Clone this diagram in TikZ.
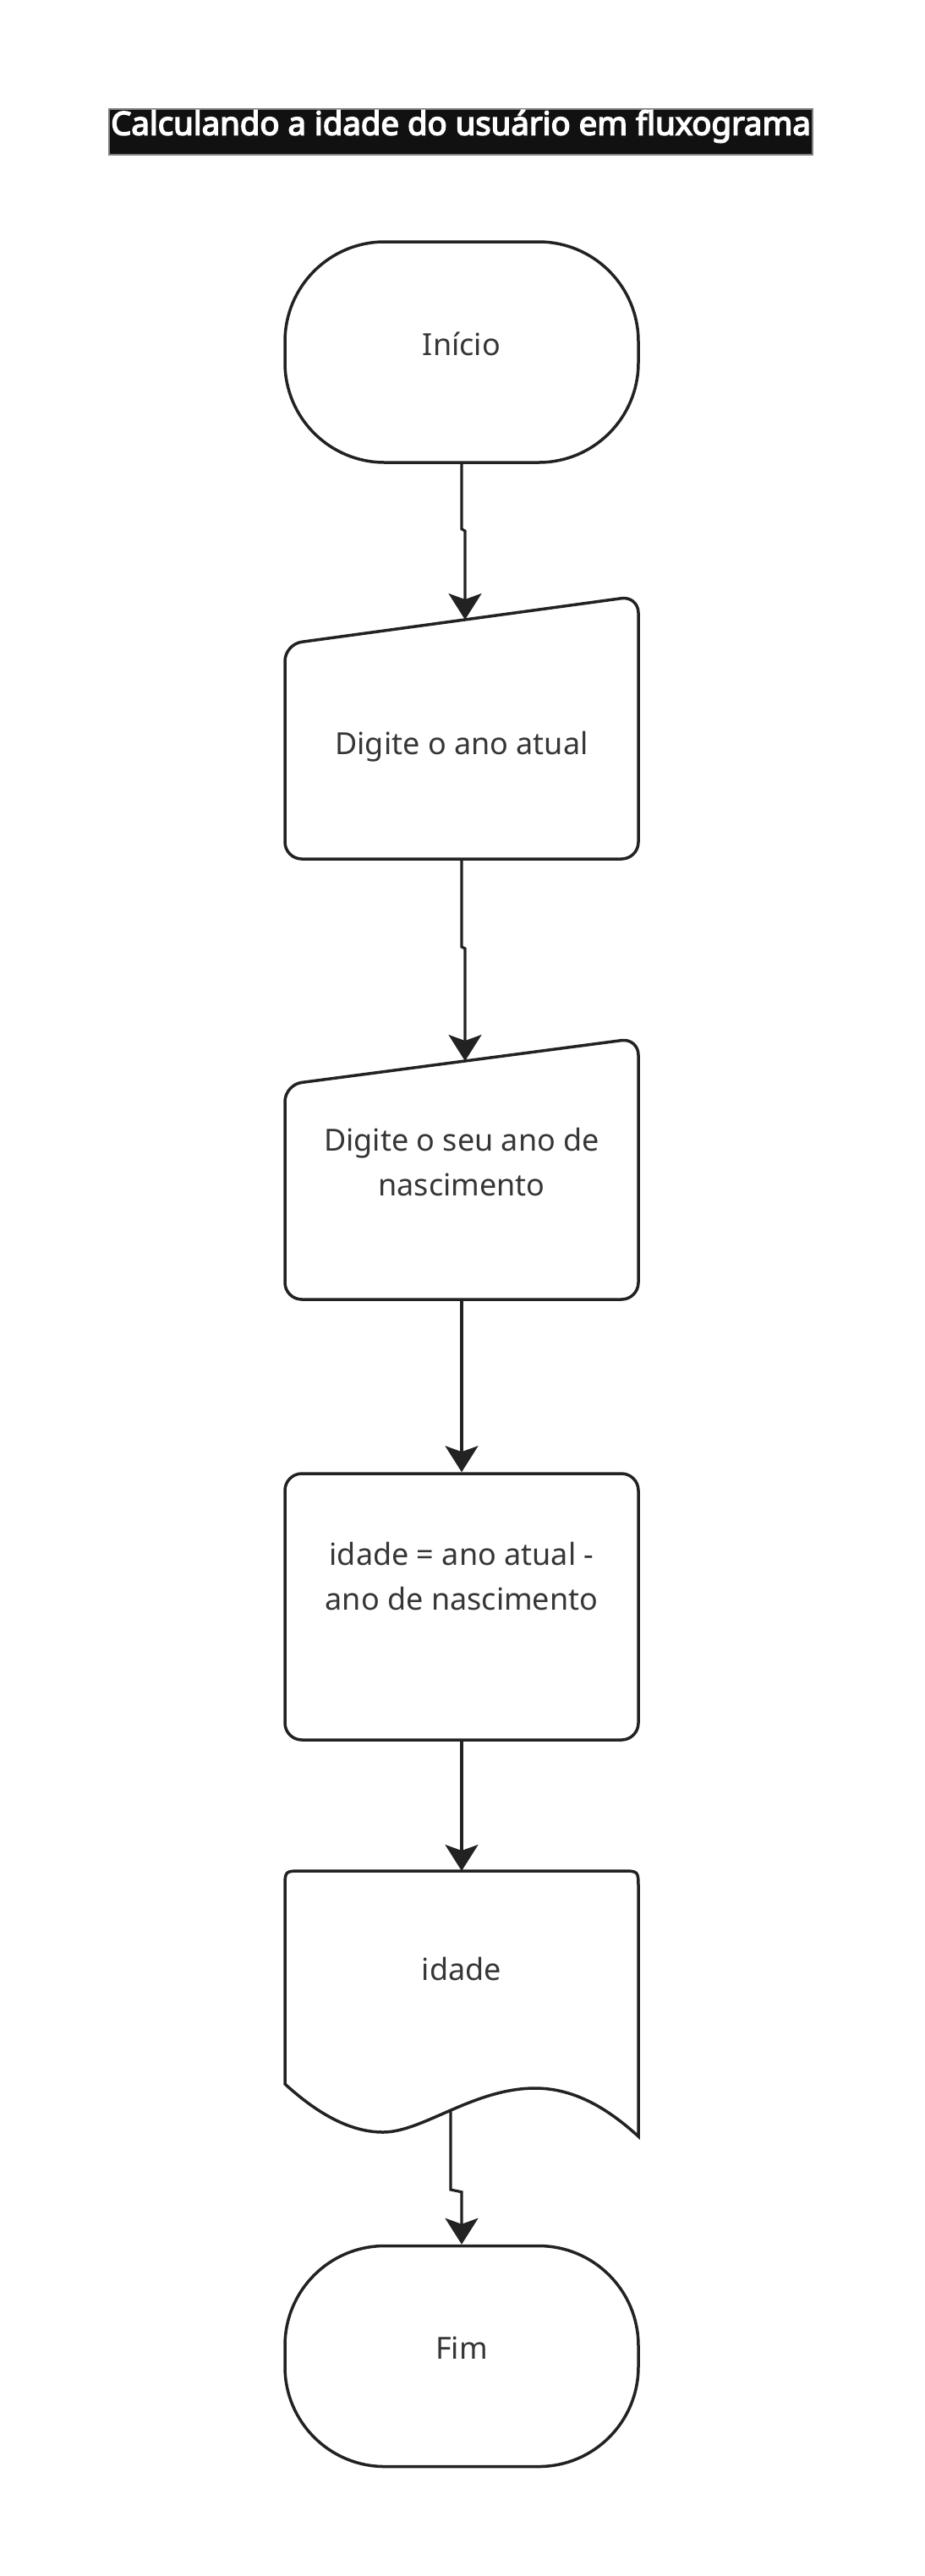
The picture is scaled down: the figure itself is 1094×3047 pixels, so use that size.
\documentclass[tikz,border=0pt]{standalone}
\usepackage{fontspec}
\setmainfont{Noto Sans}
\newfontfamily\ttlfont{Noto Sans}[FakeBold=4]
\usetikzlibrary{arrows.meta,calc}
\definecolor{ln}{HTML}{222222}
\definecolor{tx}{HTML}{363636}
\definecolor{ttl}{HTML}{111111}
\begin{document}
\begin{tikzpicture}[x=1pt,y=-1pt,
  shapeline/.style={draw=ln, line width=3.5pt, fill=white},
  lbl/.style={text=tx, font=\fontsize{36}{53}\selectfont, align=center, inner sep=0pt,
              text height=0.714em, text depth=0pt},
  term/.style={shapeline, minimum width=418pt, minimum height=261pt, rounded corners=118pt,
               text=tx, font=\fontsize{36}{53}\selectfont, inner sep=0pt,
               text height=0.714em, text depth=0pt},
  procbox/.style={shapeline, minimum width=418pt, minimum height=315pt, rounded corners=20pt,
               text=tx, font=\fontsize{36}{53}\selectfont, align=center, inner sep=0pt,
               text height=0.714em, text depth=0pt},
  conn/.style={draw=ln, line width=3.2pt, -{Stealth[length=31pt,width=39pt,inset=7pt]}},
]
\useasboundingbox (0,0) rectangle (1094,3047);

% title
\node[fill=ttl, draw=gray, line width=1.5pt, minimum width=832pt, minimum height=54pt,
      inner sep=0pt, text=white, font=\ttlfont\fontsize{38.3}{40}\selectfont,
      text height=0.714em, text depth=0pt] (title) at (545,156)
      {Calculando a idade do usuário em fluxograma};

% start
\node[term] (ini) at (546,416.5) {Início};

% input 1
\draw[shapeline, rounded corners=20pt] (337,762) -- (755,705) -- (755,1016) -- (337,1016) -- cycle;
\node[lbl] (in1) at (546,889) {Digite o ano atual};
\coordinate (in1top) at (550,733);
\coordinate (in1bot) at (546,1016);

% input 2
\draw[shapeline, rounded corners=20pt] (337,1283) -- (755,1228) -- (755,1537) -- (337,1537) -- cycle;
\node[lbl] (in2) at (546,1411) {Digite o seu ano de\\nascimento};
\coordinate (in2top) at (550,1255);
\coordinate (in2bot) at (546,1537);

% process
\node[procbox] (proc) at (546,1900.5) {idade = ano atual -\\ano de nascimento};

% display / document
\draw[shapeline] (337,2465) -- (337,2233) .. controls (337,2213) .. (357,2213)
  -- (735,2213) .. controls (755,2213) .. (755,2233) -- (755,2527)
  .. controls (720,2495) and (680,2470) .. (633,2470)
  .. controls (560,2470) and (500,2522) .. (453,2522)
  .. controls (410,2522) and (370,2495) .. (337,2465) -- cycle;
\node[lbl] (disp) at (546,2339) {idade};
\coordinate (disptop) at (546,2213);
\coordinate (dispbot) at (533,2497);

% end
\node[term] (fim) at (546,2787) {Fim};

% connectors
\draw[conn] (ini.south) -- ++(0,77) -- ($(in1top)+(0,-105)$) -- (in1top);
\draw[conn] (in1bot) -- ++(0,104) -- ($(in2top)+(0,-133)$) -- (in2top);
\draw[conn] (in2bot) -- (proc.north);
\draw[conn] (proc.south) -- (disptop);
\draw[conn] (dispbot) -- ++(0,93) -- ($(fim.north)+(0,-62)$) -- (fim.north);
\end{tikzpicture}
\end{document}
